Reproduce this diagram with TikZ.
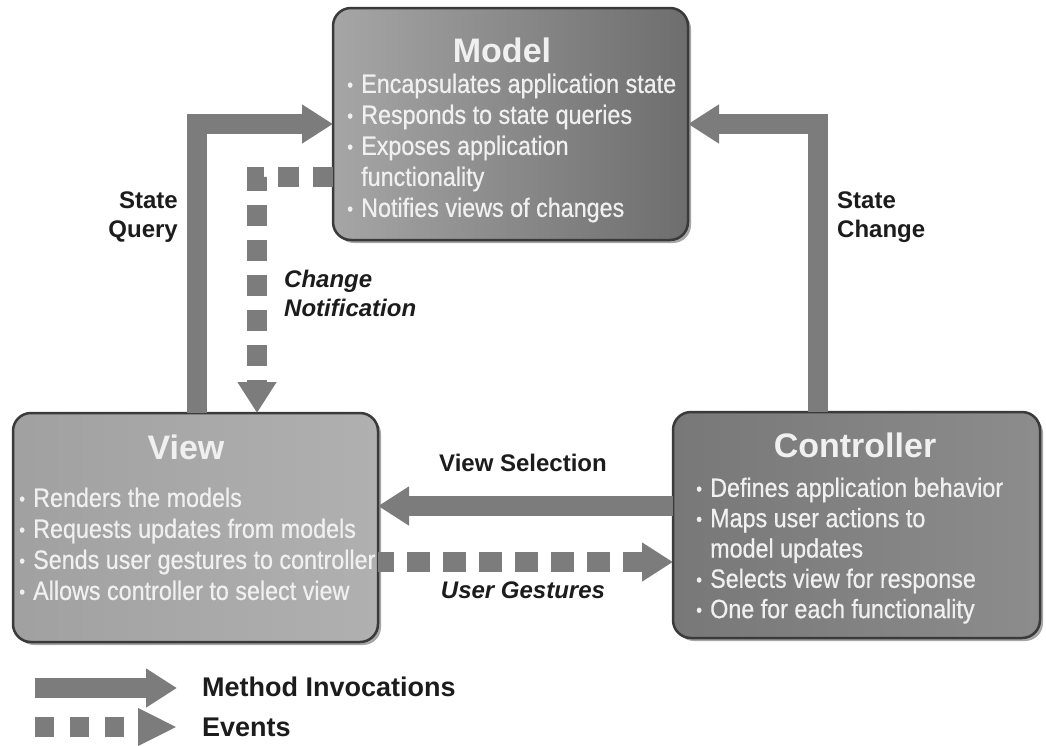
\documentclass[tikz,border=0pt]{standalone}
\usepackage{fontspec}
\setmainfont{Liberation Sans}
\newfontfamily\mvcnarrow[FakeStretch=0.88,FakeBold=0.6]{Liberation Sans}
\usetikzlibrary{arrows.meta,shadows,calc}
\definecolor{arrowgray}{HTML}{7C7C7C}
\definecolor{boxedge}{HTML}{3A3A3A}
\definecolor{boxtext}{HTML}{F0F0F0}
\definecolor{labtext}{HTML}{1C1C1C}
\newcommand\mvcbul{\makebox[14pt][l]{\fontsize{19}{19}\selectfont\raisebox{1.5pt}{•}}}
\begin{document}
\begin{tikzpicture}[x=1pt,y=-1pt,
  box/.style={draw=boxedge, line width=2.5pt, rounded corners=18pt, inner sep=0pt, outer sep=0pt,
    drop shadow={shadow xshift=3pt,shadow yshift=-3pt,opacity=0.35,fill=black}},
  boxtitle/.style={font=\bfseries\fontsize{34}{40}\selectfont, text=boxtext, inner sep=0pt},
  bullets/.style={font=\mvcnarrow\fontsize{26.5}{31}\selectfont, text=boxtext, align=left, inner sep=0pt, anchor=north west},
  lab/.style={font=\bfseries\fontsize{24}{29}\selectfont, text=labtext, inner sep=0pt},
  ilab/.style={font=\bfseries\itshape\fontsize{24}{29}\selectfont, text=labtext, inner sep=0pt},
  leg/.style={font=\bfseries\fontsize{27}{32}\selectfont, text=labtext, inner sep=0pt, anchor=west},
  marrow/.style={draw=arrowgray, line width=20pt, line join=miter, -{Triangle[length=31pt,width=37pt]}},
  earrow/.style={marrow, dash pattern=on 21pt off 14pt}
]
\useasboundingbox[fill=white] (0,0) rectangle (1046,745);

% boxes
\node[box, left color=black!35, right color=black!57, minimum width=355pt, minimum height=232pt] (Model) at (510.5,124) {};
\node[box, left color=black!37, right color=black!31, minimum width=365pt, minimum height=229pt] (View) at (195.5,527.5) {};
\node[box, left color=black!53, right color=black!45, minimum width=367pt, minimum height=226pt] (Controller) at (856.5,525) {};

% box texts
\node[boxtitle] (mtitle) at (502,50) {Model};
\node[bullets] (mtext) at (347,73.5) {\mvcbul Encapsulates application state\\
\mvcbul Responds to state queries\\
\mvcbul Exposes application\\
\hspace*{14pt}functionality\\
\mvcbul Notifies views of changes};

\node[boxtitle] (vtitle) at (186,447) {View};
\node[bullets] (vtext) at (19,487.5) {\mvcbul Renders the models\\
\mvcbul Requests updates from models\\
\mvcbul Sends user gestures to controller\\
\mvcbul Allows controller to select view};

\node[boxtitle] (ctitle) at (855,445) {Controller};
\node[bullets, font=\mvcnarrow\fontsize{26.5}{30.3}\selectfont] (ctext) at (696,477.5) {\mvcbul Defines application behavior\\
\mvcbul Maps user actions to\\
\hspace*{14pt}model updates\\
\mvcbul Selects view for response\\
\mvcbul One for each functionality};

% connectors
\draw[marrow] ([xshift=1.5pt]View.north) |- (Model.west);
\draw[marrow] ([xshift=-39pt]Controller.north) |- (Model.east);
\draw[marrow] ([yshift=19pt]Controller.west) -- ([yshift=19pt]Controller.west -| View.east);
\draw[earrow, dash phase=1pt] ([yshift=-53pt]Model.west) -| ([xshift=61.5pt]View.north);
\draw[earrow, dash pattern=on 23pt off 13pt, dash phase=7pt] ([yshift=-34.5pt]View.east) -- ([yshift=-34.5pt]View.east -| Controller.west);

% labels
\node[lab, align=right, anchor=east] (lsq) at (178,217.5) {State\\Query};
\node[lab, align=left, anchor=west] (lsc) at (837,217.5) {State\\Change};
\node[ilab, align=left, anchor=west] (lcn) at (284,293) {Change\\Notification};
\node[lab] (lvs) at (523,463) {View Selection};
\node[ilab] (lug) at (523,590) {User Gestures};

% legend
\coordinate (mi1) at (35,688);
\coordinate (mi2) at (177,688);
\draw[marrow] (mi1) -- (mi2);
\coordinate (ev1) at (35,727);
\coordinate (ev2) at (177,727);
\draw[marrow, -{Triangle[length=39pt,width=35pt]}, dash pattern=on 19pt off 16pt] (ev1) -- (ev2);
\node[leg] (lmi) at (202,687) {Method Invocations};
\node[leg] (lev) at (202,727) {Events};
\end{tikzpicture}
\end{document}
